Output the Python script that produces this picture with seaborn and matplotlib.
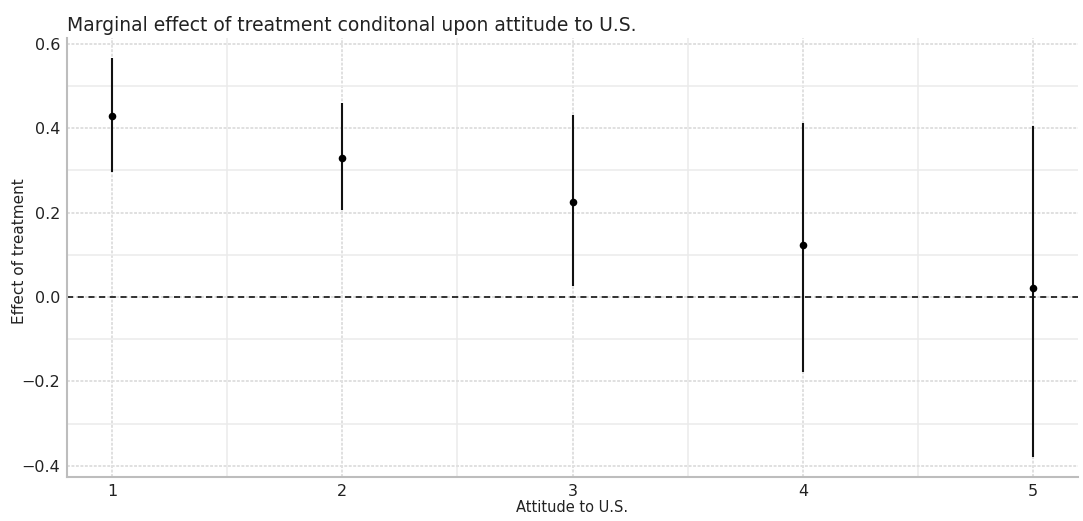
import numpy as np
import pandas as pd
import matplotlib
matplotlib.use("Agg")
import matplotlib.pyplot as plt
import seaborn as sns
from matplotlib.ticker import MultipleLocator

# values
attitude = [1, 2, 3, 4, 5]
effect = [0.429, 0.328, 0.226, 0.124, 0.022]
ci_low = [0.296, 0.206, 0.026, -0.177, -0.378]
ci_high = [0.566, 0.459, 0.431, 0.413, 0.405]

df = pd.DataFrame({"attitude": attitude, "effect": effect,
                   "lo": ci_low, "hi": ci_high})

sns.set_style("white")
plt.rcParams["font.family"] = ["DejaVu Sans"]

fig = plt.figure(figsize=(10.83, 5.21), dpi=100)
ax = fig.add_axes([0.0619, 0.0845, 0.9335, 0.8425])

# grid: major faint dotted, minor solid light
ax.xaxis.set_major_locator(MultipleLocator(1))
ax.xaxis.set_minor_locator(MultipleLocator(0.5))
ax.yaxis.set_major_locator(MultipleLocator(0.2))
ax.yaxis.set_minor_locator(MultipleLocator(0.1))
ax.grid(which="major", color="#e0e0e0", linewidth=1.4, linestyle=(0, (1.5, 0.8)))
ax.grid(which="minor", color="#ebebeb", linewidth=1.1)
ax.set_axisbelow(True)

ax.axhline(0, color="black", linestyle=(0, (4, 3)), linewidth=1.1, zorder=2)
ax.vlines(df["attitude"], df["lo"], df["hi"], color="#111111", linewidth=1.5, zorder=3)
sns.scatterplot(data=df, x="attitude", y="effect", color="black", s=30,
                edgecolor="black", linewidth=0, ax=ax, zorder=4)

ax.set_xlim(0.805, 5.195)
ax.set_ylim(-0.426, 0.613)

for side in ["top", "right"]:
    ax.spines[side].set_visible(False)
for side in ["left", "bottom"]:
    ax.spines[side].set_color("#bdbdbd")
    ax.spines[side].set_linewidth(1.5)

ax.tick_params(which="both", length=0, labelsize=11.5, colors="#222222", pad=5)
ax.set_xlabel("Attitude to U.S.", fontsize=10.5, labelpad=1, color="#222222")
ax.set_ylabel("Effect of treatment", fontsize=11, color="#222222")
ax.yaxis.set_label_coords(-0.0395, 0.514)
ax.set_title("Marginal effect of treatment conditonal upon attitude to U.S.",
             loc="left", fontsize=13.5, pad=5, color="#222222")

fig.savefig("out.png", dpi=100)
